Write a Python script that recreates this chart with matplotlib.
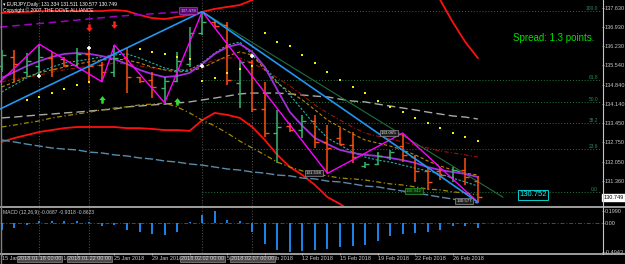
import numpy as np
import matplotlib.pyplot as plt
from matplotlib.path import Path
from matplotlib.lines import Line2D
from matplotlib.transforms import blended_transform_factory

plt.rcParams['font.family'] = ['Liberation Sans', 'DejaVu Sans']

W, H = 625, 264

##### data: EURJPY daily, 15 Jan - 28 Feb 2018 (Sunday bars included) #####
opens = [135.50, 135.85, 135.30, 135.50, 135.80, 135.75, 135.55, 135.95, 135.55, 135.30,
         135.80, 135.10, 135.00, 134.70, 134.95, 135.60, 136.70, 137.10, 137.00, 134.90,
         135.65, 133.95, 133.10, 133.35, 133.20, 133.50, 132.75, 132.90, 132.65, 131.90,
         131.95, 132.20, 132.60, 132.20, 131.70, 131.70, 131.50, 131.75, 131.334]
highs = [136.09, 136.09, 135.98, 136.30, 136.02, 135.84, 136.16, 136.09, 135.66, 136.27,
         136.16, 135.11, 135.29, 135.11, 136.02, 136.92, 137.48, 137.18, 137.10, 135.73,
         135.73, 134.93, 133.92, 133.45, 133.73, 133.73, 133.37, 133.26, 133.12, 132.03,
         132.39, 132.47, 133.08, 132.29, 131.81, 131.85, 131.85, 132.18, 131.511]
lows = [135.29, 134.93, 135.11, 135.11, 135.11, 135.47, 135.47, 134.89, 134.94, 135.11,
        134.53, 134.89, 134.35, 134.18, 134.93, 135.47, 136.63, 136.90, 134.82, 133.99,
        133.84, 132.94, 131.99, 133.12, 132.90, 132.54, 131.62, 132.65, 131.99, 131.81,
        131.92, 132.10, 132.03, 131.31, 131.02, 131.38, 131.31, 131.20, 130.577]
closes = [135.90, 135.60, 135.70, 135.85, 135.40, 135.55, 135.95, 135.50, 135.30, 135.80,
          135.10, 134.95, 134.75, 134.95, 135.70, 136.70, 137.10, 136.95, 135.00, 135.65,
          133.95, 133.10, 133.30, 133.20, 133.50, 132.75, 132.55, 132.70, 132.20, 131.95,
          132.25, 132.40, 132.30, 131.70, 131.30, 131.55, 131.75, 131.50, 130.749]

macd_hist = [-0.115, -0.088, -0.042, 0.037, 0.037, 0.025, 0.037, 0.014, -0.048, -0.042,
             -0.115, -0.155, -0.19, -0.21, -0.155, 0.005, 0.139, 0.199, 0.054, 0.025,
             -0.155, -0.352, -0.465, -0.4943, -0.47, -0.455, -0.44, -0.41, -0.40, -0.38,
             -0.31, -0.23, -0.19, -0.17, -0.155, -0.127, -0.06, -0.048, -0.08]

# indicator lines, one value per bar
ma_purple = [135.08, 135.29, 135.51, 135.69, 135.84, 135.95, 135.98, 135.95, 135.87, 135.76,
             135.58, 135.37, 135.22, 135.11, 135.15, 135.26, 135.58, 135.95, 136.20, 136.31,
             136.02, 135.47, 134.64, 133.84, 133.34, 132.90, 132.68, 132.47, 132.36, 132.29,
             132.25, 132.18, 132.10, 132.00, 131.85, 131.74, 131.67, 131.60, 131.49]
ma_teal = [134.57, 134.82, 135.08, 135.29, 135.47, 135.62, 135.69, 135.76, 135.84, 135.91,
           135.95, 135.80, 135.62, 135.44, 135.33, 135.37, 135.62, 135.98, 136.27, 136.38,
           135.91, 135.47, 134.93, 134.46, 133.92, 133.37, 132.90, 132.65, 132.39, 132.21,
           132.10, 132.03, 131.92, 131.81, 131.71, 131.60, 131.45, 131.31, 131.16]
ma_gold = [134.75, 134.93, 135.11, 135.26, 135.37, 135.47, 135.58, 135.66, 135.73, 135.76,
           135.73, 135.62, 135.47, 135.37, 135.29, 135.33, 135.44, 135.66, 135.87, 136.02,
           135.91, 135.37, 134.89, 134.57, 134.28, 133.92, 133.55, 133.30, 133.05, 132.83,
           132.72, 132.61, 132.47, 132.29, 132.07, 131.89, 131.74, 131.63, 131.56]
ma_darkred = [134.93, 135.04, 135.11, 135.18, 135.29, 135.37, 135.44, 135.51, 135.55, 135.62,
              135.58, 135.51, 135.44, 135.37, 135.37, 135.40, 135.55, 135.73, 135.80, 135.80,
              135.62, 135.37, 135.08, 134.79, 134.46, 134.10, 133.81, 133.55, 133.30, 133.08,
              132.97, 132.87, 132.76, 132.65, 132.54, 132.43, 132.36, 132.29, 132.21]
band_upper = [137.43, 137.47, 137.47, 137.50, 137.50, 137.50, 137.50, 137.50, 137.50, 137.54,
              137.50, 137.36, 137.25, 137.21, 137.29, 137.36, 137.47, 137.58, 137.65, 137.72,
              137.90, 138.26, 138.60, 138.60, 138.60, 138.60, 138.60, 138.60, 138.60, 138.60,
              138.60, 138.60, 138.60, 138.60, 138.60, 137.90, 137.10, 136.38, 135.80]
band_lower = [132.76, 132.90, 133.01, 133.12, 133.19, 133.26, 133.30, 133.30, 133.30, 133.30,
              133.26, 133.26, 133.23, 133.19, 133.19, 133.16, 133.55, 133.81, 133.74, 133.63,
              133.30, 132.83, 132.29, 131.85, 131.56, 131.20, 130.76, 130.51, 130.22]
gray_dash = [133.63, 133.66, 133.70, 133.74, 133.77, 133.81, 133.84, 133.88, 133.92, 133.95,
             134.03, 134.06, 134.10, 134.13, 134.17, 134.21, 134.28, 134.35, 134.42, 134.50,
             134.53, 134.53, 134.53, 134.50, 134.46, 134.42, 134.39, 134.31, 134.24, 134.21,
             134.13, 134.06, 133.99, 133.92, 133.84, 133.77, 133.70, 133.66, 133.59]
olive_line = [133.30, 133.37, 133.45, 133.52, 133.63, 133.70, 133.77, 133.84, 133.92, 133.99,
              134.03, 134.10, 134.13, 134.17, 134.03, 133.81, 133.55, 133.34, 133.08, 132.79,
              132.54, 132.29, 132.03, 131.85, 131.71, 131.60, 131.53, 131.45, 131.42, 131.38,
              131.31, 131.24, 131.20, 131.13, 131.05, 131.02, 130.95, 130.91, 130.84]
steel_line = [132.83, 132.76, 132.68, 132.61, 132.54, 132.50, 132.47, 132.39, 132.36, 132.29,
              132.25, 132.18, 132.14, 132.07, 132.03, 131.96, 131.92, 131.85, 131.78, 131.74,
              131.67, 131.63, 131.56, 131.53, 131.45, 131.42, 131.34, 131.31, 131.24, 131.16,
              131.13, 131.05, 130.98, 130.91, 130.84, 130.76, 130.69, 130.62, 130.55]

# parabolic SAR dots
sar_idx = [2, 3, 4, 5, 6, 7, 11, 12, 13, 14, 15, 16, 17, 18, 19, 20,
           21, 22, 23, 24, 25, 26, 27, 28, 29, 30, 31, 32, 33, 34, 35, 36, 37, 38]
sar_val = [134.28, 134.39, 134.53, 134.68, 134.82, 134.93, 136.13, 136.02, 135.95, 135.84,
           135.76, 134.97, 135.08, 135.26, 135.40, 135.51, 136.71, 136.38, 136.24, 135.91,
           135.62, 135.29, 135.00, 134.75, 134.53, 134.24, 134.03, 133.84, 133.63, 133.45,
           133.26, 133.08, 132.94, 132.79]

# zigzag swing points and trend lines
zz_x = [-0.14, 3, 8, 9, 13, 16, 26, 32, 38]
zz_y = [134.93, 136.30, 134.94, 136.27, 134.18, 137.48, 131.62, 133.08, 130.577]
blue_x = [-0.14, 16, 38]
blue_y = [133.95, 137.48, 130.577]
green_x = [16, 40]
green_y = [137.48, 130.76]
purple_dash_x = [-0.14, 5.21, 9.44, 14.23]
purple_dash_y = [136.92, 137.14, 137.32, 137.47]

fib_levels = [137.50, 134.99, 134.22, 133.45, 132.49, 130.94]
fib_labels = ['100.0', '61.8', '50.0', '38.2', '23.6', '0.0']

sell_idx, sell_val = [7, 9], [136.89, 137.00]
buy_idx, buy_val = [8, 14], [134.31, 134.24]
cross_idx, cross_val = [3, 7, 16, 20], [135.15, 136.16, 135.51, 135.87]

vline_idx = [3, 7, 16, 20]
vline_labels = ['2018.01.18 00:00', '2018.01.22 00:00', '2018.02.02 00:00', '2018.02.07 00:00']

tick_idx = [0, 3, 6, 9, 12, 15, 18, 21, 24, 27, 30, 33, 36]
tick_labels = ['15 Jan 2018', '18 Jan 2018', '22 Jan 2018', '25 Jan 2018', '29 Jan 2018',
               '1 Feb 2018', '5 Feb 2018', '8 Feb 2018', '12 Feb 2018', '15 Feb 2018',
               '19 Feb 2018', '22 Feb 2018', '26 Feb 2018']
price_ticks = [137.63, 136.93, 136.23, 135.54, 134.84, 134.14, 133.45, 132.75, 132.05, 131.36, 130.66]
macd_ticks = [0.199, 0.0, -0.4943]
macd_tick_labels = ['0.1990', '0.00', '-0.4943']

bars = np.arange(len(opens))

##### figure layout (pixel based, like the terminal window) #####
fig = plt.figure(figsize=(W / 100, H / 100), dpi=100, facecolor='black')

def fx(px):
    return px / W

def fy(py):
    return 1 - py / H

ax = fig.add_axes([0, fy(206), fx(602), fy(0) - fy(206)])
ax2 = fig.add_axes([0, fy(253), fx(602), fy(208) - fy(253)])
for a in (ax, ax2):
    a.set_facecolor('black')
    for s in a.spines.values():
        s.set_visible(False)
    a.set_xlim(-0.136, 47.91)
ax.set_ylim(130.438, 137.902)
ax2.set_ylim(-0.511, 0.25)

axis_col = '#c8c8c8'
ax.yaxis.tick_right()
ax.set_yticks(price_ticks)
ax.set_yticklabels(['%.3f' % v for v in price_ticks])
ax.set_xticks([])
ax.tick_params(axis='y', colors=axis_col, labelsize=4, length=1.5, width=0.5, pad=0.5)

ax2.yaxis.tick_right()
ax2.set_yticks(macd_ticks)
ax2.set_yticklabels(macd_tick_labels)
ax2.set_xticks(tick_idx)
ax2.set_xticklabels(tick_labels, ha='left')
ax2.tick_params(axis='y', colors=axis_col, labelsize=4, length=1.5, width=0.5, pad=0.5)
ax2.tick_params(axis='x', colors=axis_col, labelsize=4, length=1.5, width=0.5, pad=0.8)

##### main panel #####
for a in (ax, ax2):
    a.vlines(vline_idx, *a.get_ylim(), colors='#4a4a4a', lw=0.8, linestyles=(0, (1, 1.5)))

for lvl, lab in zip(fib_levels, fib_labels):
    ax.plot([16, 47.8], [lvl, lvl], color='#1f7a3a', lw=0.7, ls=(0, (1, 2)))
    ax.text(47.6, lvl, lab, color='#2e8b57', fontsize=3.5, ha='right', va='bottom')

ax.plot(bars[:len(band_lower)], band_lower, color='#ff1010', lw=1.3)
ax.plot(bars, band_upper, color='#ff1010', lw=1.3)
ax.plot(purple_dash_x, purple_dash_y, color='#a000c8', lw=1.1, ls=(0, (5, 3)))
ax.plot(bars, gray_dash, color='#a8a8a8', lw=1.0, ls=(0, (6, 3)))
ax.plot(bars, olive_line, color='#a08a00', lw=0.9, ls=(0, (4, 2, 1, 2)))
ax.plot(bars, steel_line, color='#5a8aa8', lw=1.0, ls=(0, (6, 2)))
ax.plot(bars, ma_darkred, color='#a01010', lw=0.8, ls=(0, (4, 2, 1, 2)))
ax.plot(bars, ma_gold, color='#b8860b', lw=0.8, ls=(0, (3, 2)))
ax.plot(bars, ma_teal, color='#20b2aa', lw=0.8, ls=(0, (2, 1.5)))
ax.plot(green_x, green_y, color='#1f6f3f', lw=0.8)
ax.plot(bars, ma_purple, color='#a030e0', lw=1.3)

up = np.array(closes) >= np.array(opens)
cols = np.where(up, '#3cb371', '#ff5010')
ax.vlines(bars, lows, highs, colors=cols, lw=1.1)
ax.hlines(opens, bars - 0.32, bars, colors=cols, lw=1.0)
ax.hlines(closes, bars, bars + 0.32, colors=cols, lw=1.0)

ax.plot(zz_x, zz_y, color='#ff00ff', lw=1.0)
ax.plot(blue_x, blue_y, color='#2196f3', lw=1.2)
ax.plot(sar_idx, sar_val, 's', ms=1.5, mew=0, color='#f0f000')

arrow = [(-0.3, 1), (0.3, 1), (0.3, 0.15), (0.8, 0.15), (0, -0.8), (-0.8, 0.15), (-0.3, 0.15), (-0.3, 1)]
down_arrow = Path(arrow, closed=True)
up_arrow = Path([(x, -y) for x, y in arrow], closed=True)
ax.plot(sell_idx, sell_val, ls='none', marker=down_arrow, ms=6, color='#ff2020', mew=0)
ax.plot(buy_idx, buy_val, ls='none', marker=up_arrow, ms=6, color='#30e030', mew=0)
ax.plot(cross_idx, cross_val, ls='none', marker='+', ms=3.5, mew=1.2, color='white')

# swing labels
small = dict(fontsize=3.2, ha='center', va='center')
ax.text(14.9, 137.52, '137.478', color='#e0b0ff',
        bbox=dict(boxstyle='square,pad=0.25', fc='#5a0a70', ec='#a040c0', lw=0.5), **small)
ax.text(24.9, 131.63, '131.598', color='#e0e0e0',
        bbox=dict(boxstyle='square,pad=0.25', fc='#202020', ec='#909090', lw=0.5), **small)
ax.text(30.9, 133.08, '133.065', color='#e0e0e0',
        bbox=dict(boxstyle='square,pad=0.25', fc='#202020', ec='#909090', lw=0.5), **small)
ax.text(36.9, 130.62, '130.577', color='#e0e0e0',
        bbox=dict(boxstyle='square,pad=0.25', fc='#202020', ec='#909090', lw=0.5), **small)
ax.text(32.9, 130.98, '130.942', color='#30c030',
        bbox=dict(boxstyle='square,pad=0.25', fc='#0a2a0a', ec='#30a030', lw=0.5), **small)
ax.text(42.4, 130.85, '130.752', color='#00ffff', fontsize=5.5, ha='center', va='center',
        bbox=dict(boxstyle='square,pad=0.2', fc='black', ec='#00d0d0', lw=0.7))

# current price on the axis
tr = blended_transform_factory(ax.transAxes, ax.transData)
ax.text(1.002, 130.749, '130.749', transform=tr, ha='left', va='center', fontsize=4,
        color='black', bbox=dict(boxstyle='square,pad=0.2', fc='white', ec='white'), clip_on=False)

##### MACD panel #####
ax2.axhline(0, color='#c01818', lw=0.7, ls=(0, (4, 2, 1, 2)))
ax2.vlines(bars, 0, macd_hist, colors='#1e90ff', lw=1.3)

# labels of the vertical lines on the time axis (they cover the dates, as in the terminal)
trb = blended_transform_factory(ax2.transData, fig.transFigure)
for i, lab in zip(vline_idx, vline_labels):
    ax2.text(i, fy(259), lab, transform=trb, ha='center', va='center', fontsize=4,
             color='#d0d0d0', clip_on=False, zorder=5,
             bbox=dict(boxstyle='square,pad=0.15', fc='#4a4a4a', ec='#8a8a8a', lw=0.5))

##### frame lines and captions #####
for y in (206.5, 254):
    fig.add_artist(Line2D([0, 1], [fy(y), fy(y)], transform=fig.transFigure, color=axis_col, lw=1.1))
fig.add_artist(Line2D([fx(602.5)] * 2, [fy(0), fy(254)], transform=fig.transFigure, color=axis_col, lw=0.8))
fig.add_artist(Line2D([fx(0.5)] * 2, [0, 1], transform=fig.transFigure, color='#808080', lw=1.0))

fig.text(fx(3), fy(4.5), '\u25be EURJPY,Daily  131.334 131.511 130.577 130.749',
         color='white', fontsize=3.6, va='center')
fig.text(fx(3), fy(10.5), 'Copyright \u00a9 2007, THE DOVE ALLIANCE', color='white', fontsize=3.5, va='center')
fig.text(fx(513), fy(38), 'Spread: 1.3 points.', color='#00e000', fontsize=7, va='center')
fig.text(fx(3), fy(212.5), 'MACD (12,26,9) -0.0687 -0.9318 -0.8623', color=axis_col, fontsize=3.6, va='center')

fig.savefig('out.png', dpi=100, facecolor='black')
